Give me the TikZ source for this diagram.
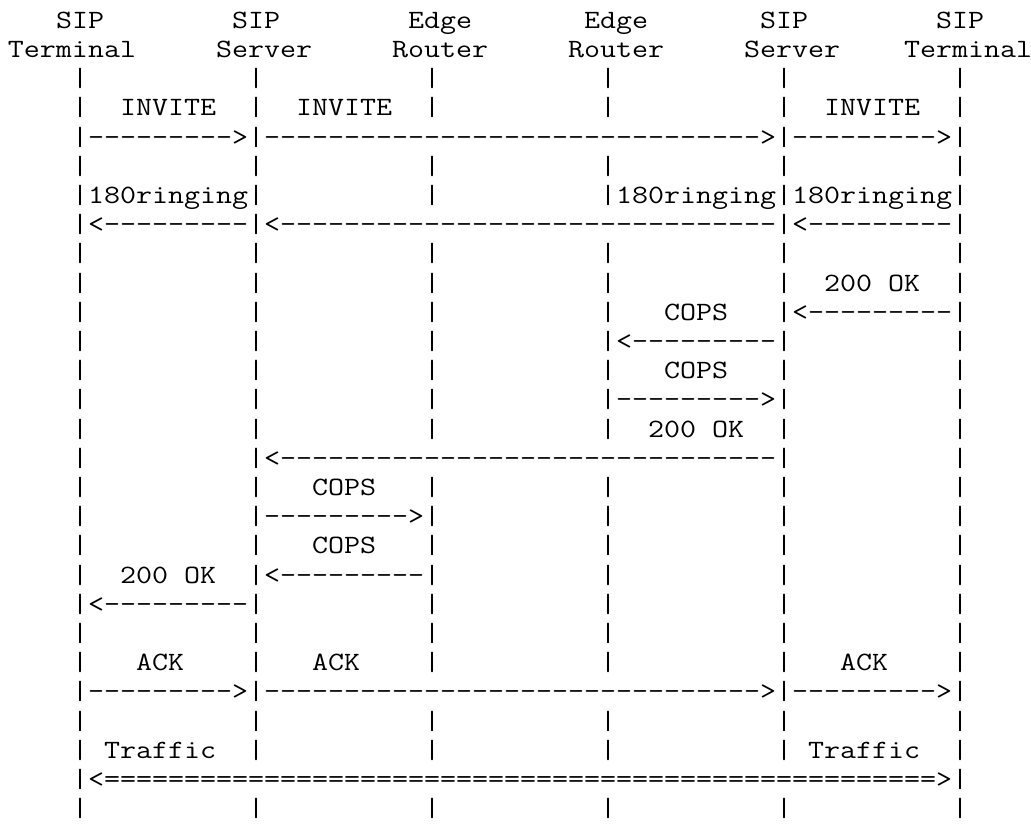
\documentclass[tikz,border=0pt]{standalone}
\usepackage{fontspec}
\usepackage{graphicx}
\ExplSyntaxOn
\cs_new:Npn \myrep #1#2 { \prg_replicate:nn {#1} {#2} }
\ExplSyntaxOff
\newlength\chw
\newcommand\ascfont{\ttfamily\fontsize{26.4pt}{29.2pt}\selectfont}
% Latin Modern Mono (serif typewriter), widened so one character is 16 units wide
\AtBeginDocument{%
  \settowidth{\chw}{\ascfont -}%
  \pgfmathsetmacro\sxtmp{16/\chw}%
  \xdef\sxf{\sxtmp}}
\tikzset{asc/.style={anchor=base west, inner sep=0pt, outer sep=0pt,
  font=\ascfont, text=black}}
\newcommand\ct[3]{\node[asc] (t#1x#2) at ({8+16*#2},{-(28.3+(#1-1)*29.2)}) {\scalebox{\sxf}[1]{#3}};}
\newcommand\bars[2]{\foreach \cc in {#2}{\ct{#1}{\cc}{|}}}
\begin{document}
\begin{tikzpicture}[x=1pt,y=1pt]
\fill[white] (0,0) rectangle (1031,-824);
\useasboundingbox (0,0) rectangle (1031,-824);
% header
\ct{1}{3}{SIP} \ct{1}{14}{SIP} \ct{1}{25}{Edge} \ct{1}{36}{Edge} \ct{1}{47}{SIP} \ct{1}{58}{SIP}
\ct{2}{0}{Terminal} \ct{2}{13}{Server} \ct{2}{24}{Router} \ct{2}{35}{Router} \ct{2}{46}{Server} \ct{2}{56}{Terminal}
% full bar rows
\foreach \r in {3,4,6,7,9,10,11,12,13,14,15,17,18,19,20,21,22,23,25,26,28}{\bars{\r}{4,15,26,37,48,59}}
\foreach \r in {5,8,16,24}{\bars{\r}{4,15,48,59}}
\bars{27}{4,59}
% INVITE
\ct{4}{7}{INVITE} \ct{4}{18}{INVITE} \ct{4}{51}{INVITE}
\ct{5}{5}{\myrep{9}{-}>} \ct{5}{16}{\myrep{31}{-}>} \ct{5}{49}{\myrep{9}{-}>}
% 180 ringing
\ct{7}{5}{180ringing} \ct{7}{38}{180ringing} \ct{7}{49}{180ringing}
\ct{8}{5}{<\myrep{9}{-}} \ct{8}{16}{<\myrep{31}{-}} \ct{8}{49}{<\myrep{9}{-}}
% 200 OK and COPS at far side
\ct{10}{51}{200 OK}
\ct{11}{41}{COPS} \ct{11}{49}{<\myrep{9}{-}}
\ct{12}{38}{<\myrep{9}{-}}
\ct{13}{41}{COPS}
\ct{14}{38}{\myrep{9}{-}>}
\ct{15}{40}{200 OK}
\ct{16}{16}{<\myrep{31}{-}}
% COPS at near side
\ct{17}{19}{COPS}
\ct{18}{16}{\myrep{9}{-}>}
\ct{19}{19}{COPS}
\ct{20}{7}{200 OK} \ct{20}{16}{<\myrep{9}{-}}
\ct{21}{5}{<\myrep{9}{-}}
% ACK
\ct{23}{8}{ACK} \ct{23}{19}{ACK} \ct{23}{52}{ACK}
\ct{24}{5}{\myrep{9}{-}>} \ct{24}{16}{\myrep{31}{-}>} \ct{24}{49}{\myrep{9}{-}>}
% Traffic
\ct{26}{6}{Traffic} \ct{26}{50}{Traffic}
\ct{27}{5}{<\myrep{52}{=}>}
\end{tikzpicture}
\end{document}
